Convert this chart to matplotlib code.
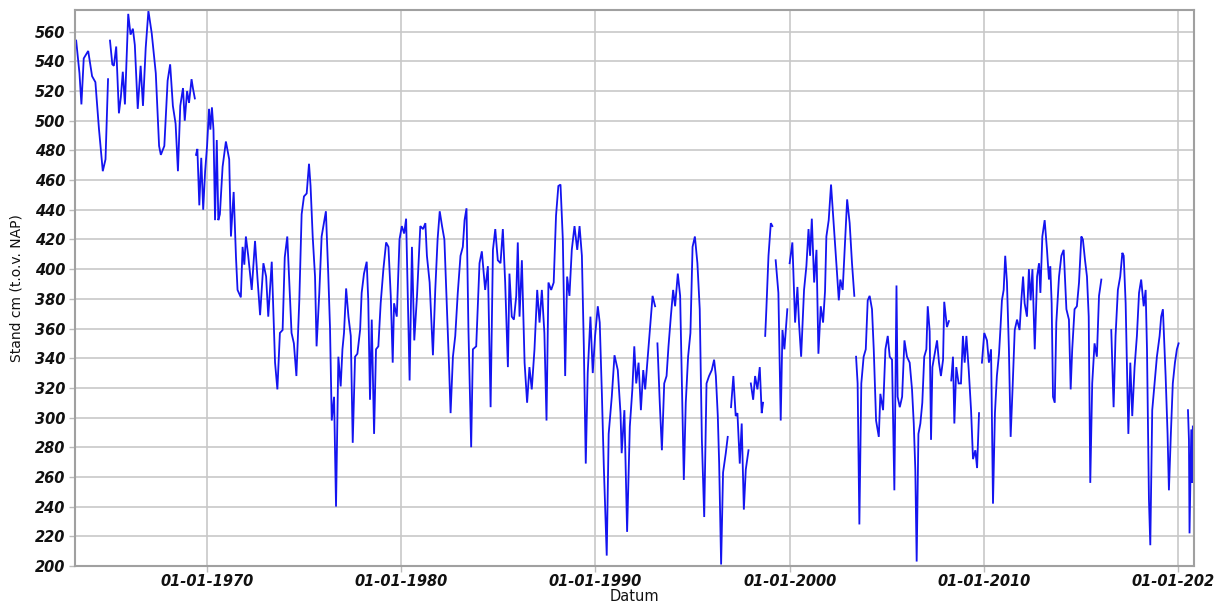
import numpy as np
import matplotlib
matplotlib.use("Agg")
import matplotlib.pyplot as plt
import matplotlib.dates as mdates
from datetime import datetime

# Grondwaterstand (cm t.o.v. NAP) per meetmoment, als decimaal jaartal.
# None markeert een onderbreking in de meetreeks.
jaar_1960 = [1963.26, 1963.43, 1963.53, 1963.65, 1963.88, 1964.08, 1964.25, 1964.43,
             1964.63, 1964.77, 1964.90, 1964.95, 1965.00, 1965.12, 1965.20, 1965.32,
             1965.46, 1965.56, 1965.66, 1965.77, 1965.94, 1966.06, 1966.18, 1966.28,
             1966.43, 1966.58, 1966.70, 1966.84, 1966.98, 1967.15, 1967.36, 1967.53,
             1967.62, 1967.80, 1967.97, 1968.10, 1968.24, 1968.38, 1968.50, 1968.62,
             1968.76, 1968.85, 1968.97, 1969.07, 1969.20, 1969.27, 1969.37, 1969.40,
             1969.43, 1969.50, 1969.60, 1969.70, 1969.80, 1969.90]
stand_1960 = [554, 532, 511, 542, 547, 530, 526, 495,
              466, 474, 528, None, 554, 538, 537, 550,
              505, 516, 533, 511, 572, 558, 562, 551,
              508, 537, 510, 549, 574, 559, 532, 483,
              477, 483, 527, 538, 510, 498, 466, 510,
              522, 500, 520, 512, 528, 522, 515, None,
              477, 481, 443, 475, 440, 466]

jaar_1970 = [1970.00, 1970.10, 1970.17, 1970.25, 1970.33, 1970.41, 1970.50, 1970.58,
             1970.66, 1970.80, 1970.97, 1971.14, 1971.23, 1971.37, 1971.49, 1971.57,
             1971.74, 1971.83, 1971.92, 1972.00, 1972.12, 1972.30, 1972.47, 1972.60,
             1972.73, 1972.90, 1973.04, 1973.15, 1973.33, 1973.50, 1973.62, 1973.75,
             1973.89, 1974.00, 1974.13, 1974.35, 1974.47, 1974.60, 1974.75, 1974.87,
             1974.99, 1975.13, 1975.25, 1975.33, 1975.44, 1975.56, 1975.64, 1975.78,
             1975.90, 1976.12, 1976.24, 1976.33, 1976.42, 1976.54, 1976.64, 1976.76,
             1976.88, 1976.97, 1977.05, 1977.16, 1977.28, 1977.40, 1977.50, 1977.62,
             1977.74, 1977.88, 1977.96, 1978.08, 1978.22, 1978.30, 1978.39, 1978.48,
             1978.60, 1978.70, 1978.82, 1978.94, 1979.08, 1979.22, 1979.34, 1979.46,
             1979.56, 1979.63, 1979.77, 1979.91]
stand_1970 = [483, 508, 494, 509, 494, 433, 487, 433,
              437, 469, 486, 474, 422, 452, 408, 386,
              381, 415, 403, 422, 409, 386, 419, 393,
              369, 404, 395, 368, 405, 337, 319, 357,
              359, 408, 422, 357, 350, 328, 379, 437,
              449, 451, 471, 456, 422, 395, 348, 384,
              422, 439, 397, 361, 298, 314, 240, 341,
              321, 346, 357, 387, 368, 355, 283, 341,
              343, 359, 384, 397, 405, 379, 312, 366,
              289, 346, 348, 377, 400, 418, 415, 382,
              337, 377, 368, 420]

jaar_1980 = [1980.03, 1980.15, 1980.25, 1980.43, 1980.55, 1980.67, 1980.81, 1980.98,
             1981.12, 1981.24, 1981.32, 1981.46, 1981.63, 1981.75, 1981.87, 1981.98,
             1982.10, 1982.22, 1982.36, 1982.46, 1982.54, 1982.66, 1982.78, 1982.91,
             1983.05, 1983.17, 1983.26, 1983.36, 1983.46, 1983.60, 1983.69, 1983.86,
             1984.03, 1984.15, 1984.32, 1984.46, 1984.60, 1984.72, 1984.84, 1984.97,
             1985.11, 1985.23, 1985.35, 1985.49, 1985.57, 1985.69, 1985.80, 1985.92,
             1986.00, 1986.09, 1986.21, 1986.35, 1986.48, 1986.60, 1986.72, 1986.86,
             1987.00, 1987.12, 1987.24, 1987.37, 1987.48, 1987.58, 1987.72, 1987.85,
             1987.97, 1988.09, 1988.20, 1988.32, 1988.44, 1988.54, 1988.66, 1988.78,
             1988.92, 1989.06, 1989.18, 1989.30, 1989.40, 1989.50, 1989.60, 1989.74,
             1989.86, 1989.98]
stand_1980 = [429, 424, 434, 325, 415, 352, 382, 429,
              427, 431, 409, 391, 342, 386, 420, 439,
              429, 420, 370, 335, 303, 341, 355, 384,
              409, 415, 433, 441, 359, 280, 346, 348,
              404, 412, 386, 402, 307, 413, 427, 406,
              404, 427, 391, 334, 397, 368, 366, 382,
              418, 368, 406, 337, 310, 334, 319, 346,
              386, 364, 386, 357, 298, 391, 386, 391,
              436, 456, 457, 420, 328, 395, 382, 413,
              429, 413, 429, 409, 348, 269, 330, 368,
              330, 355]

jaar_1990 = [1990.12, 1990.22, 1990.33, 1990.43, 1990.58, 1990.68, 1990.84, 1990.98,
             1991.15, 1991.29, 1991.35, 1991.49, 1991.63, 1991.77, 1991.90, 1992.00,
             1992.10, 1992.22, 1992.34, 1992.46, 1992.56, 1992.68, 1992.80, 1992.94,
             1993.07, 1993.13, 1993.19, 1993.31, 1993.42, 1993.54, 1993.66, 1993.76,
             1993.88, 1994.00, 1994.10, 1994.24, 1994.36, 1994.45, 1994.55, 1994.65,
             1994.77, 1994.89, 1995.00, 1995.12, 1995.25, 1995.37, 1995.48, 1995.60,
             1995.72, 1995.85, 1995.99, 1996.11, 1996.20, 1996.30, 1996.37, 1996.47,
             1996.57, 1996.71, 1996.81, 1996.90, 1996.98, 1997.10, 1997.22, 1997.31,
             1997.43, 1997.53, 1997.64, 1997.74, 1997.88, 1997.94, 1998.00, 1998.12,
             1998.22, 1998.34, 1998.46, 1998.56, 1998.63, 1998.69, 1998.74, 1998.80,
             1998.91, 1999.03, 1999.11, 1999.20, 1999.28, 1999.42, 1999.54, 1999.63,
             1999.73, 1999.88, 1999.94]
stand_1990 = [375, 364, 316, 267, 207, 289, 314, 342,
              332, 303, 276, 305, 223, 294, 319, 348,
              323, 337, 305, 332, 319, 339, 359, 382,
              375, None, 350, 310, 278, 323, 328, 348,
              368, 386, 375, 397, 382, 323, 258, 310,
              341, 357, 415, 422, 404, 373, 285, 233,
              323, 328, 332, 339, 328, 301, 269, 201,
              263, 276, 287, None, 307, 328, 301, 303,
              269, 296, 238, 265, 278, None, 323, 312,
              328, 319, 334, 303, 310, None, 355, 373,
              409, 431, 429, None, 406, 384, 298, 359,
              346, 373, None]

jaar_2000 = [2000.00, 2000.14, 2000.28, 2000.40, 2000.48, 2000.59, 2000.74, 2000.86,
             2000.97, 2001.05, 2001.14, 2001.26, 2001.38, 2001.48, 2001.60, 2001.72,
             2001.82, 2001.89, 2002.01, 2002.13, 2002.24, 2002.36, 2002.44, 2002.53,
             2002.61, 2002.73, 2002.84, 2002.96, 2003.09, 2003.21, 2003.33, 2003.38,
             2003.42, 2003.50, 2003.59, 2003.69, 2003.81, 2003.92, 2004.02, 2004.12,
             2004.24, 2004.33, 2004.45, 2004.59, 2004.67, 2004.81, 2004.93, 2005.05,
             2005.15, 2005.27, 2005.39, 2005.50, 2005.56, 2005.67, 2005.79, 2005.91,
             2006.04, 2006.18, 2006.30, 2006.39, 2006.47, 2006.54, 2006.63, 2006.73,
             2006.83, 2006.93, 2007.04, 2007.11, 2007.21, 2007.28, 2007.35, 2007.47,
             2007.59, 2007.69, 2007.79, 2007.90, 2007.96, 2008.10, 2008.20, 2008.26,
             2008.32, 2008.41, 2008.48, 2008.58, 2008.70, 2008.82, 2008.92, 2009.01,
             2009.10, 2009.22, 2009.34, 2009.44, 2009.56, 2009.65, 2009.75, 2009.82,
             2009.90]
stand_2000 = [404, 418, 364, 388, 364, 341, 386, 402,
              427, 409, 434, 391, 413, 343, 375, 364,
              385, 422, 433, 457, 436, 413, 397, 379,
              393, 386, 415, 447, 431, 404, 382, None,
              341, 323, 228, 323, 341, 346, 379, 382,
              373, 346, 298, 287, 316, 305, 346, 355,
              341, 339, 251, 389, 314, 307, 314, 352,
              341, 337, 319, 296, 265, 203, 289, 296,
              310, 341, 346, 375, 358, 285, 334, 343,
              352, 337, 328, 339, 378, 361, 365, None,
              325, 341, 296, 334, 323, 323, 355, 337,
              355, 332, 305, 272, 278, 266, 303, None,
              337]

jaar_2010 = [2010.02, 2010.16, 2010.26, 2010.37, 2010.47, 2010.57, 2010.67, 2010.78,
             2010.85, 2010.93, 2011.02, 2011.10, 2011.19, 2011.29, 2011.38, 2011.48,
             2011.59, 2011.71, 2011.84, 2011.93, 2012.02, 2012.10, 2012.22, 2012.32,
             2012.41, 2012.50, 2012.62, 2012.74, 2012.84, 2012.91, 2013.01, 2013.13,
             2013.25, 2013.35, 2013.42, 2013.49, 2013.56, 2013.65, 2013.73, 2013.87,
             2013.99, 2014.11, 2014.25, 2014.38, 2014.47, 2014.55, 2014.67, 2014.79,
             2014.90, 2015.02, 2015.10, 2015.21, 2015.31, 2015.40, 2015.48, 2015.58,
             2015.70, 2015.82, 2015.93, 2016.05, 2016.30, 2016.56, 2016.68, 2016.78,
             2016.90, 2017.02, 2017.13, 2017.20, 2017.30, 2017.37, 2017.44, 2017.54,
             2017.64, 2017.76, 2017.88, 2017.99, 2018.10, 2018.23, 2018.33, 2018.40,
             2018.50, 2018.57, 2018.67, 2018.79, 2018.91, 2019.05, 2019.13, 2019.22,
             2019.36, 2019.46, 2019.53, 2019.63, 2019.73, 2019.84, 2019.94, 2020.03,
             2020.30, 2020.51, 2020.56, 2020.59, 2020.68, 2020.73, 2020.76]
stand_2010 = [357, 352, 337, 346, 242, 303, 328, 343,
              359, 379, 386, 409, 391, 346, 287, 320,
              359, 366, 359, 379, 395, 377, 368, 400,
              379, 400, 346, 395, 404, 384, 422, 433,
              413, 393, 402, 377, 314, 310, 364, 395,
              409, 413, 373, 366, 319, 346, 373, 375,
              391, 422, 420, 406, 395, 368, 256, 323,
              350, 341, 382, 393, None, 359, 307, 355,
              386, 395, 411, 409, 377, 334, 289, 337,
              301, 334, 355, 384, 393, 375, 386, 346,
              245, 214, 305, 323, 341, 355, 368, 373,
              328, 289, 251, 289, 323, 337, 346, 350,
              None, 305, 285, 222, 292, 256, 294]

x_ticks_years = [1970, 1980, 1990, 2000, 2010, 2020]
y_ticks = list(range(200, 561, 20))
y_limits = (200, 574.6)
x_limits_years = (1963.2, 2020.82)


def decimal_year_to_num(y):
    yr = int(np.floor(y))
    start = datetime(yr, 1, 1)
    end = datetime(yr + 1, 1, 1)
    return mdates.date2num(start + (end - start) * (y - yr))


jaren = jaar_1960 + jaar_1970 + jaar_1980 + jaar_1990 + jaar_2000 + jaar_2010
standen = stand_1960 + stand_1970 + stand_1980 + stand_1990 + stand_2000 + stand_2010
x = np.array([decimal_year_to_num(j) for j in jaren])
y = np.array([np.nan if s is None else s for s in standen], dtype=float)

fig = plt.figure(figsize=(12.14, 6.05), dpi=100)
ax = fig.add_axes([75 / 1214, 39 / 605, (1194 - 75) / 1214, (566 - 10) / 605])

ax.plot(x, y, color="#1414f0", linewidth=1.3, solid_joinstyle="miter")

ax.set_ylim(*y_limits)
ax.set_xlim(decimal_year_to_num(x_limits_years[0]), decimal_year_to_num(x_limits_years[1]))
ax.set_yticks(y_ticks)
ax.set_xticks([mdates.date2num(datetime(j, 1, 1)) for j in x_ticks_years])
ax.xaxis.set_major_formatter(mdates.DateFormatter("%d-%m-%Y"))

for lbl in ax.get_xticklabels() + ax.get_yticklabels():
    lbl.set_fontweight("bold")
    lbl.set_fontstyle("italic")
    lbl.set_fontsize(10.5)
    lbl.set_color("#111111")

ax.grid(True, color="#c8c8c8", linewidth=1.2)
ax.set_axisbelow(True)
ax.tick_params(axis="both", length=4, width=1, color="#bbbbbb", pad=3)
ax.tick_params(axis="x", pad=2)
for sp in ax.spines.values():
    sp.set_color("#a0a0a0")
    sp.set_linewidth(1.5)

ax.set_ylabel("Stand cm (t.o.v. NAP)", fontsize=10, labelpad=8, color="#111111")
ax.set_xlabel("Datum", fontsize=10.5, labelpad=0, color="#111111")

fig.savefig("out.png", dpi=100, facecolor="white")
